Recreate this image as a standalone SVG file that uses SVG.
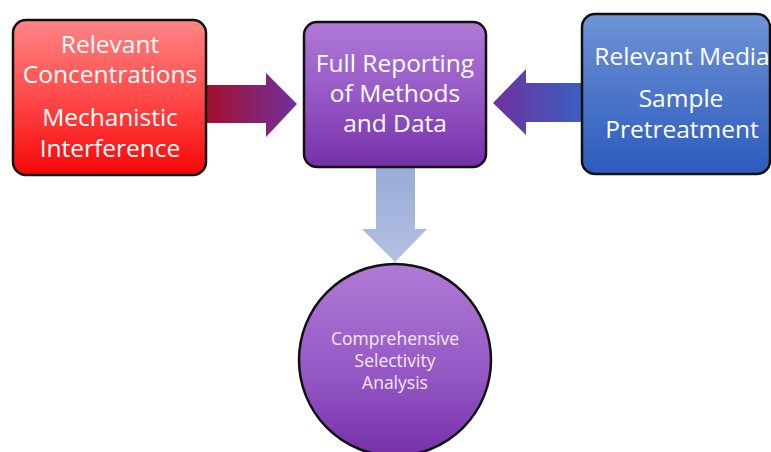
<svg xmlns="http://www.w3.org/2000/svg" width="771" height="452" viewBox="0 0 771 452">
  <defs>
    <linearGradient id="gRed" x1="0" y1="0" x2="0" y2="1">
      <stop offset="0" stop-color="#ff8585"/>
      <stop offset="0.5" stop-color="#ff4a4a"/>
      <stop offset="1" stop-color="#f60606"/>
    </linearGradient>
    <linearGradient id="gPurple" x1="0" y1="0" x2="0" y2="1">
      <stop offset="0" stop-color="#b07ad6"/>
      <stop offset="0.5" stop-color="#9659c6"/>
      <stop offset="1" stop-color="#7630a8"/>
    </linearGradient>
    <linearGradient id="gBlue" x1="0" y1="0" x2="0" y2="1">
      <stop offset="0" stop-color="#6f93d6"/>
      <stop offset="0.5" stop-color="#4d76c9"/>
      <stop offset="1" stop-color="#2b5bbd"/>
    </linearGradient>
    <linearGradient id="gCircle" x1="0" y1="0" x2="0" y2="1">
      <stop offset="0" stop-color="#b07ad6"/>
      <stop offset="0.6" stop-color="#9356c4"/>
      <stop offset="1" stop-color="#7630a8"/>
    </linearGradient>
    <linearGradient id="gArrowR" x1="0" y1="0" x2="1" y2="0">
      <stop offset="0" stop-color="#a40f2a"/>
      <stop offset="1" stop-color="#7030a0"/>
    </linearGradient>
    <linearGradient id="gArrowL" x1="1" y1="0" x2="0" y2="0">
      <stop offset="0" stop-color="#3a60c0"/>
      <stop offset="1" stop-color="#7030a0"/>
    </linearGradient>
    <linearGradient id="gArrowD" x1="0" y1="0" x2="0" y2="1">
      <stop offset="0" stop-color="#98acd8"/>
      <stop offset="1" stop-color="#b3c0e2"/>
    </linearGradient>
  </defs>
  <style>
    .box { stroke: #111; stroke-width: 2.5; }
    .lbl { font-family: "Open Sans", "Noto Sans", "DejaVu Sans", sans-serif; fill: #ffffff; text-anchor: middle; }
    .big { font-size: 24.5px; }
    .small { font-size: 17.5px; fill: #f3eaf8; }
  </style>

  <g id="connectors">
    <!-- red box to centre box -->
    <path d="M206 85 H266 V73 L297 104 L266 137 V123 H206 Z" fill="url(#gArrowR)"/>
    <!-- blue box to centre box -->
    <path d="M583 83 H526 V69 L493 103 L526 135 V122 H583 Z" fill="url(#gArrowL)"/>
    <!-- centre box to circle -->
    <path d="M376 167 H415 V229 H427 L395 262 L362 229 H376 Z" fill="url(#gArrowD)"/>
  </g>

  <g id="node-concentrations">
    <rect class="box" x="13" y="20" width="193" height="155" rx="13" fill="url(#gRed)"/>
    <text class="lbl big" x="110" y="53">Relevant</text>
    <text class="lbl big" x="110" y="83">Concentrations</text>
    <text class="lbl big" x="110" y="126">Mechanistic</text>
    <text class="lbl big" x="110" y="157">Interference</text>
  </g>

  <g id="node-reporting">
    <rect class="box" x="304" y="22" width="182" height="145" rx="13" fill="url(#gPurple)"/>
    <text class="lbl big" x="395" y="72">Full Reporting</text>
    <text class="lbl big" x="395" y="102">of Methods</text>
    <text class="lbl big" x="395" y="132">and Data</text>
  </g>

  <g id="node-media">
    <rect class="box" x="582" y="14" width="188" height="160" rx="13" fill="url(#gBlue)"/>
    <text class="lbl big" x="682" y="65">Relevant Media</text>
    <text class="lbl big" x="681" y="107">Sample</text>
    <text class="lbl big" x="682" y="138">Pretreatment</text>
  </g>

  <g id="node-selectivity">
    <circle class="box" cx="395" cy="360" r="96" fill="url(#gCircle)"/>
    <text class="lbl small" x="395" y="345">Comprehensive</text>
    <text class="lbl small" x="395" y="367">Selectivity</text>
    <text class="lbl small" x="395" y="389">Analysis</text>
  </g>
</svg>
